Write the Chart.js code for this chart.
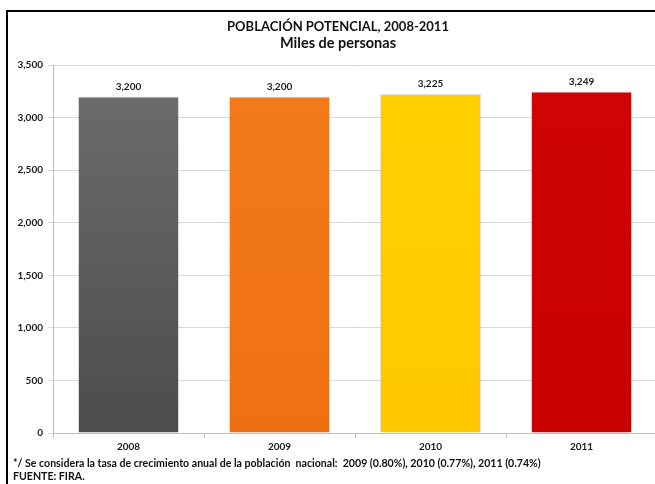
<!DOCTYPE html>
<html><head><meta charset="utf-8">
<script src="https://cdn.jsdelivr.net/npm/chart.js@4.4.1/dist/chart.umd.min.js"></script>
<style>
html,body{margin:0;padding:0;background:#fff;overflow:hidden;width:655px;height:484px}
#wrap{position:absolute;left:0;top:0;width:662px;height:484px}
#frame{position:absolute;left:6px;top:10px;width:660px;height:480px;border-left:2px solid #000;border-top:2px solid #000;pointer-events:none}
</style></head><body>
<div id="wrap"><canvas id="c"></canvas></div><div id="frame"></div>
<script>
const categories = ['2008', '2009', '2010', '2011'];
const values = [3200, 3200, 3225, 3249];
const titleLines = ['POBLACIÓN POTENCIAL, 2008-2011', 'Miles de personas'];
const footnotes = ['*/ Se considera la tasa de crecimiento anual de la población  nacional:  2009 (0.80%), 2010 (0.77%), 2011 (0.74%)', 'FUENTE: FIRA.'];
const barTopColors = ['#6b6b6b', '#f27a1a', '#ffd000', '#d00404'];
const barBottomColors = ['#4c4c4c', '#ef7012', '#ffc800', '#c80000'];
const FONT = 'Lato, "Open Sans", sans-serif';

const labelsPlugin = {
  id: 'extras',
  afterDatasetsDraw(chart) {
    const ctx = chart.ctx;
    const meta = chart.getDatasetMeta(0);
    ctx.save();
    ctx.fillStyle = '#1a1a1a';
    ctx.font = 'bold 10px ' + FONT;
    ctx.textAlign = 'center';
    ctx.textBaseline = 'middle';
    meta.data.forEach((bar, i) => {
      ctx.fillText(values[i].toLocaleString('en-US'), bar.x, bar.y - 10);
    });
    ctx.restore();
  },
  afterDraw(chart) {
    const ctx = chart.ctx;
    ctx.save();
    ctx.fillStyle = '#111';
    ctx.textBaseline = 'middle';
    ctx.textAlign = 'center';
    ctx.font = 'bold 13px ' + FONT;
    ctx.fillText(titleLines[0], 338, 27);
    ctx.font = 'bold 14.5px ' + FONT;
    ctx.fillText(titleLines[1], 338, 43);
    ctx.textAlign = 'left';
    ctx.font = 'bold 10.6px ' + FONT;
    ctx.fillText(footnotes[0], 13, 464);
    ctx.fillText(footnotes[1], 13, 477);
    ctx.restore();
  }
};

new Chart(document.getElementById('c'), {
  type: 'bar',
  data: {
    labels: categories,
    datasets: [{
      data: values,
      backgroundColor(ctx) {
        const chart = ctx.chart;
        const area = chart.chartArea;
        if (!area) return barBottomColors[ctx.dataIndex];
        const g = chart.ctx.createLinearGradient(0, area.top + 30, 0, area.bottom);
        g.addColorStop(0, barTopColors[ctx.dataIndex]);
        g.addColorStop(1, barBottomColors[ctx.dataIndex]);
        return g;
      },
      borderColor: 'rgba(0,0,0,0.12)',
      borderWidth: 1,
      barPercentage: 0.67,
      categoryPercentage: 1.0
    }]
  },
  options: {
    responsive: true,
    maintainAspectRatio: false,
    animation: false,
    devicePixelRatio: 1,
    layout: { padding: { left: 0, right: 5, top: 65, bottom: 31 } },
    plugins: { legend: { display: false }, tooltip: { enabled: false }, title: { display: false } },
    scales: {
      x: {
        afterFit(scale) { scale.height = 20; },
        grid: { display: true, drawOnChartArea: false, drawTicks: true, tickLength: 5, color: '#bfbfbf', offset: true },
        border: { color: '#bfbfbf' },
        ticks: { color: '#1a1a1a', font: { family: FONT, size: 10, weight: 'bold' }, padding: 3, maxRotation: 0 }
      },
      y: {
        min: 0, max: 3500,
        afterFit(scale) { scale.width = 53; },
        grid: { color: '#d9d9d9', tickLength: 5, drawTicks: true },
        border: { color: '#bfbfbf' },
        ticks: {
          stepSize: 500,
          color: '#1a1a1a',
          font: { family: FONT, size: 10, weight: 'bold' },
          padding: 5,
          callback: v => v.toLocaleString('en-US')
        }
      }
    }
  },
  plugins: [labelsPlugin]
});
</script>
</body></html>
